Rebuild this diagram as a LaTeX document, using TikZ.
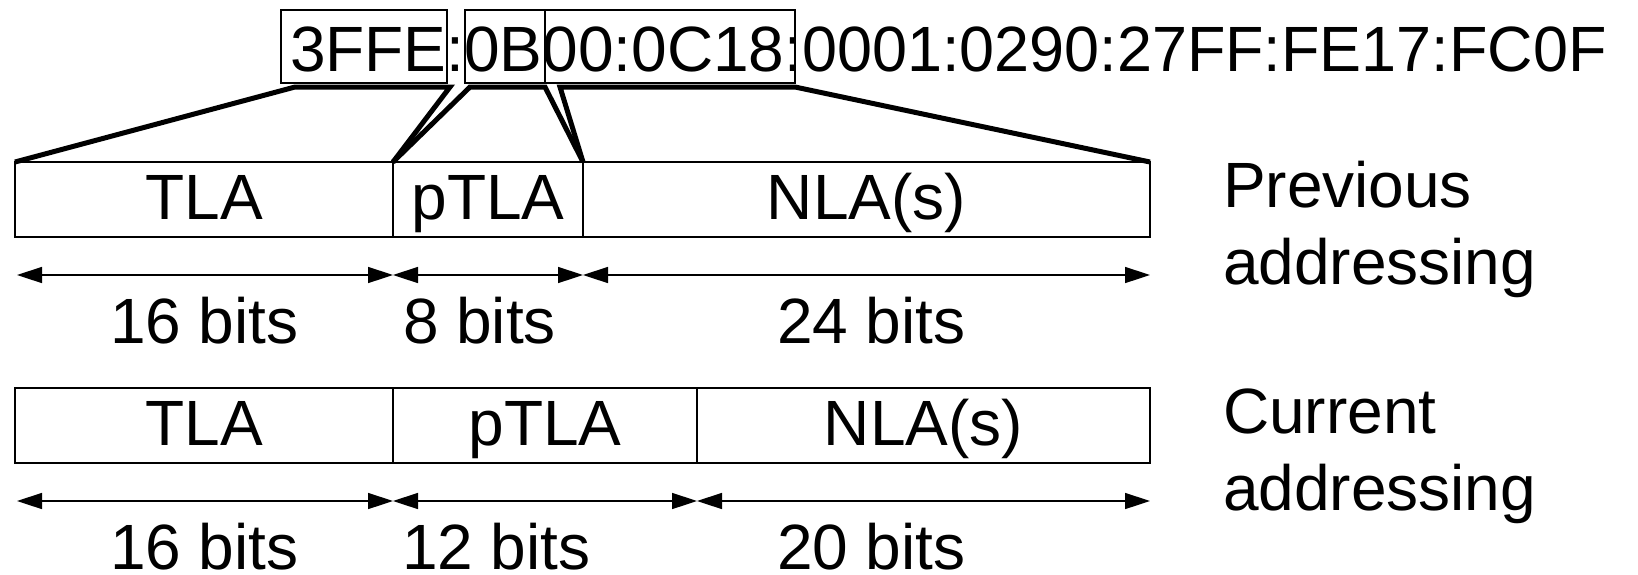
\documentclass[tikz,border=0pt]{standalone}
\usepackage{fontspec}
\setmainfont{Liberation Sans}
\usetikzlibrary{arrows.meta,calc}
\begin{document}
\begin{tikzpicture}[x=0.5pt,y=-0.5pt,
  every node/.style={inner sep=0pt, outer sep=0pt, font=\fontsize{32pt}{38.5pt}\selectfont},
  cell/.style={draw, line width=0.85pt, minimum height=37.5pt, anchor=north west, text height=23pt, text depth=3.5pt},
  seg/.style={draw, line width=0.75pt, minimum height=36.5pt, anchor=north west},
  zoomline/.style={line width=2.5pt, line join=miter},
  dimarrow/.style={line width=0.75pt, {Triangle[length=12.5pt,width=8pt]}-{Triangle[length=12.5pt,width=8pt]}},
  lbl/.style={anchor=base west}]
\fill[white] (0,0) rectangle (1638,574);
\useasboundingbox (0,0) rectangle (1638,574);

% address and its highlighted parts
\node[lbl] (addr) at (290,71) {3FFE:0B00:0C18:\scalebox{0.983}[1]{0001:0290:27FF:FE17:FC0F}};
\node[seg, minimum width=83pt] (s1) at (281,10) {};
\node[seg, minimum width=40pt] (s2) at (465,10) {};
\node[seg, minimum width=125pt] (s3) at (545,10) {};

% previous addressing
\node[cell, minimum width=189pt] (pT) at (15,162) {TLA};
\node[cell, minimum width=95pt] (pP) at (393,162) {pTLA};
\node[cell, minimum width=283.5pt] (pN) at (583,162) {NLA(s)};

% current addressing
\node[cell, minimum width=189pt] (cT) at (15,388) {TLA};
\node[cell, minimum width=152pt] (cP) at (393,388) {pTLA};
\node[cell, minimum width=226.5pt] (cN) at (697,388) {NLA(s)};

% zoom lines
\coordinate (z1a) at (295,87);
\coordinate (z1b) at (450,87);
\coordinate (z2a) at (470,87);
\coordinate (z2b) at (545,87);
\coordinate (z3a) at (560,87);
\coordinate (z3b) at (795,87);
\draw[zoomline] (pT.north west) -- (z1a) -- (z1b) -- (pP.north west);
\draw[zoomline] (pP.north west) -- (z2a) -- (z2b) -- (pN.north west);
\draw[zoomline] (pN.north west) -- (z3a) -- (z3b) -- (pN.north east);

% dimension arrows
\draw[dimarrow] ($(pT.south west)+(2,38)$) -- ($(pT.south east)+(0,38)$);
\draw[dimarrow] ($(pP.south west)+(0,38)$) -- ($(pP.south east)+(0,38)$);
\draw[dimarrow] ($(pN.south west)+(0,38)$) -- ($(pN.south east)+(0,38)$);
\draw[dimarrow] ($(cT.south west)+(2,38)$) -- ($(cT.south east)+(0,38)$);
\draw[dimarrow] ($(cP.south west)+(0,38)$) -- ($(cP.south east)+(0,38)$);
\draw[dimarrow] ($(cN.south west)+(0,38)$) -- ($(cN.south east)+(0,38)$);

% bit labels
\node[lbl] (pb1) at (110,343) {16 bits};
\node[lbl] (pb2) at (403,343) {8 bits};
\node[lbl] (pb3) at (777,343) {24 bits};
\node[lbl] (cb1) at (110,569) {16 bits};
\node[lbl] (cb2) at (402,569) {12 bits};
\node[lbl] (cb3) at (777,569) {20 bits};

% row labels
\node[lbl] (prevlbl) at (1223,207) {\vtop{\hbox{Previous}\hbox{addressing}}};
\node[lbl] (curlbl) at (1223,433) {\vtop{\hbox{Current}\hbox{addressing}}};
\end{tikzpicture}
\end{document}
